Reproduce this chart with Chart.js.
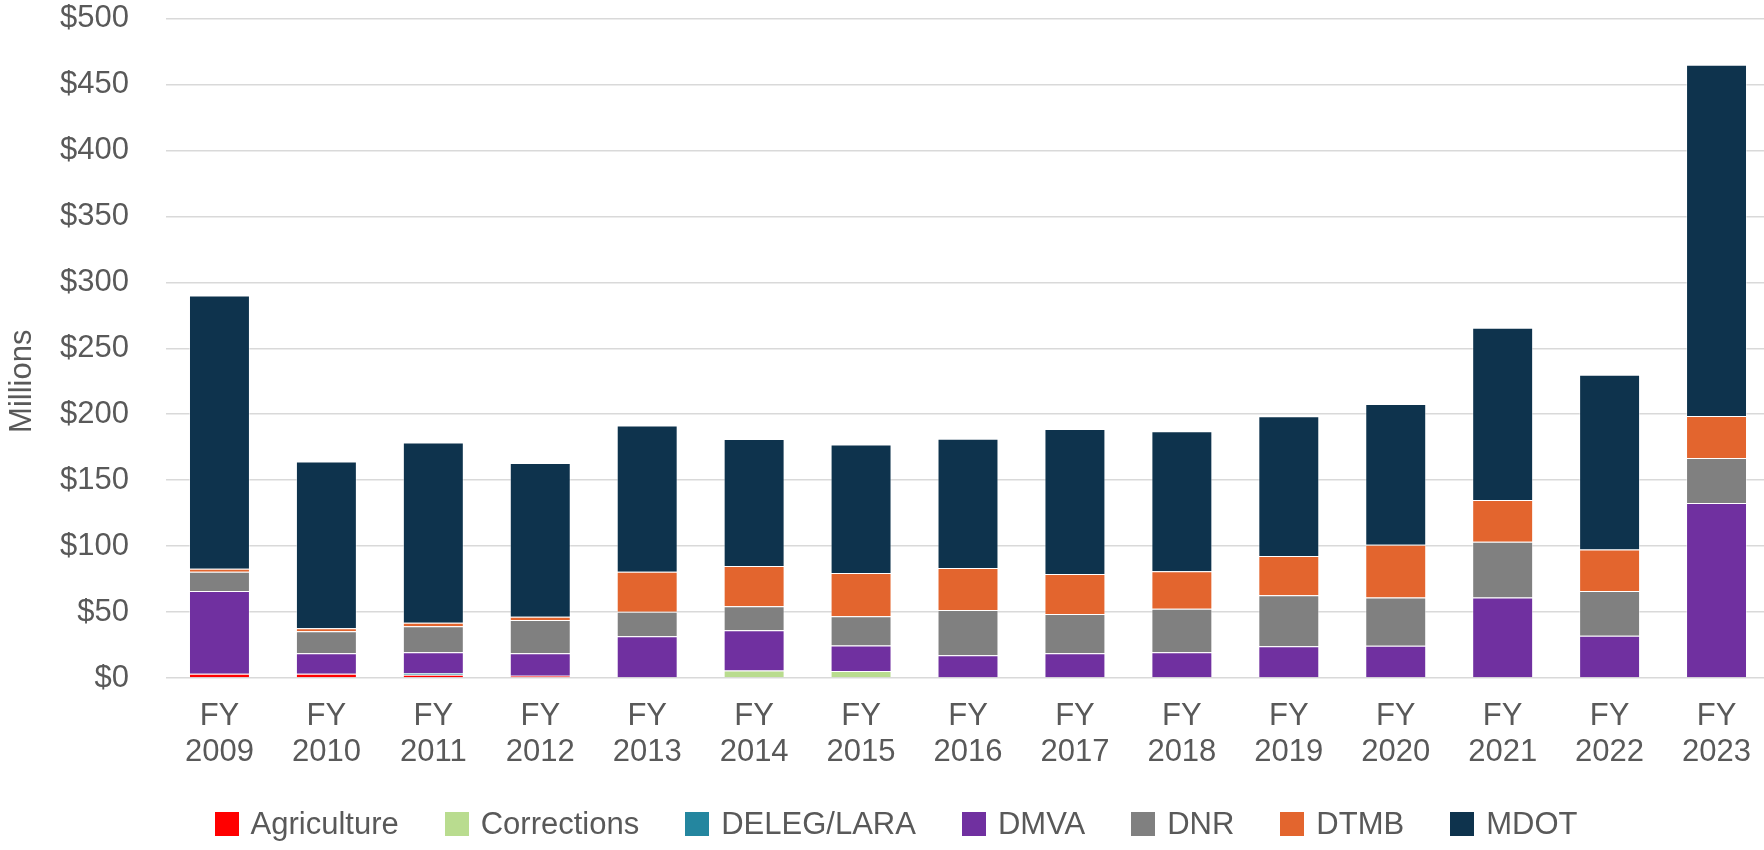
<!DOCTYPE html>
<html>
<head>
<meta charset="utf-8">
<script src="https://cdn.jsdelivr.net/npm/chart.js@4"></script>
<style>
  html, body { margin:0; padding:0; background:#fff; overflow:hidden; }
  #wrap { position:relative; width:1764px; height:850px; overflow:hidden; font-family:"Liberation Sans", Arial, sans-serif; }
  #chart { display:block; }
  #legend { position:absolute; left:0; top:806px; width:1764px; padding-left:28px; box-sizing:border-box;
            display:flex; justify-content:center; align-items:center; color:#595959; font-size:31px; }
  #legend .item { display:flex; align-items:center; margin:0 23px; }
  #legend .box { width:24px; height:24px; margin-right:12px; }
</style>
</head>
<body>
<div id="wrap">
  <!-- plot runs a few px past the right edge, as in the original -->
  <canvas id="chart" width="1770" height="850"></canvas>
  <div id="legend"></div>
</div>
<script>
// fiscal years on the x axis
const years = ['2009','2010','2011','2012','2013','2014','2015','2016','2017','2018','2019','2020','2021','2022','2023'];

// values in $ millions
const agriculture = [3.3, 3.3, 2.5, 1.8, 0, 0, 0, 0, 0, 0, 0, 0, 0, 0, 0];
const corrections = [0, 0, 0, 0, 0, 5.6, 5.3, 0, 0, 0, 0, 0, 0, 0, 0];
const delegLara   = [0, 0, 1.3, 0, 0, 0, 0, 0, 0, 0, 0, 0, 0, 0, 0];
const dmva = [62.7, 15.4, 15.7, 16.9, 31.7, 30.7, 19.3, 17.2, 18.7, 19.5, 24.1, 24.4, 61.0, 32.0, 132.7];
const dnr  = [14.5, 16.8, 19.8, 25.2, 18.6, 18.2, 22.3, 34.3, 29.8, 33.0, 38.6, 36.6, 42.3, 34.0, 34.1];
const dtmb = [2.3, 2.3, 2.6, 2.5, 30.2, 30.5, 32.8, 32.0, 30.4, 28.5, 29.9, 40.0, 31.7, 31.5, 31.9];
const mdot = [207.3, 126.3, 136.6, 116.6, 110.9, 96.3, 97.3, 98.0, 110.0, 106.1, 105.9, 106.8, 130.5, 132.5, 266.3];

const seriesNames  = ['Agriculture','Corrections','DELEG/LARA','DMVA','DNR','DTMB','MDOT'];
const seriesColors = ['#FF0000','#B9DC8F','#24869F','#7030A0','#808080','#E3652E','#0E334D'];
const seriesData   = [agriculture, corrections, delegLara, dmva, dnr, dtmb, mdot];

const yTicks = { min: 0, max: 500, step: 50 };

const textColor = '#595959';
const fontFamily = '"Liberation Sans", Arial, sans-serif';

// y axis title placed like the original (a bit below the plot centre)
const axisTitle = {
  id: 'axisTitle',
  afterDraw(chart){
    const ctx = chart.ctx;
    const a = chart.chartArea;
    ctx.save();
    ctx.translate(22, a.top + (a.bottom - a.top) * 0.55);
    ctx.rotate(-Math.PI/2);
    ctx.fillStyle = textColor;
    ctx.font = '31px ' + fontFamily;
    ctx.textAlign = 'center';
    ctx.textBaseline = 'middle';
    ctx.fillText('Millions', 0, 0);
    ctx.restore();
  }
};

const datasets = seriesNames.map((name,i)=>({
  label: name,
  data: seriesData[i],
  backgroundColor: seriesColors[i],
  borderColor: 'rgba(255,255,255,0.45)',
  borderWidth: 1,
  barPercentage: 0.57,
  categoryPercentage: 1
}));

new Chart(document.getElementById('chart'), {
  type: 'bar',
  data: { labels: years.map(y=>['FY', y]), datasets: datasets },
  plugins: [axisTitle],
  options: {
    responsive: false,
    animation: false,
    layout: { padding: { top: 2, bottom: 72, left: 0, right: 0 } },
    plugins: { legend: { display: false }, tooltip: { enabled: false } },
    scales: {
      x: {
        stacked: true,
        afterFit(scale){ scale.height = 100; scale.paddingLeft = 0; scale.paddingRight = 0; },
        grid: { display: false, drawTicks: false },
        border: { display: false },
        ticks: { color: textColor, padding: 21, maxRotation: 0, autoSkip: false, font: { size: 31, family: fontFamily, lineHeight: 1.15 } }
      },
      y: {
        stacked: true,
        min: yTicks.min, max: yTicks.max,
        afterFit(scale){ scale.width = 166; },
        // invisible tick marks make the gap between labels and plot
        grid: { color: '#D9D9D9', lineWidth: 1.5, drawTicks: true, tickLength: 37, tickColor: 'rgba(0,0,0,0)' },
        border: { display: false },
        ticks: {
          stepSize: yTicks.step, color: textColor, padding: 0,
          font: { size: 31, family: fontFamily },
          callback: v => '$' + v
        }
      }
    }
  }
});

// legend under the chart
const leg = document.getElementById('legend');
seriesNames.forEach((name,i)=>{
  const it = document.createElement('div');
  it.className = 'item';
  it.innerHTML = '<span class="box" style="background:'+seriesColors[i]+'"></span><span>'+name+'</span>';
  leg.appendChild(it);
});
</script>
</body>
</html>
